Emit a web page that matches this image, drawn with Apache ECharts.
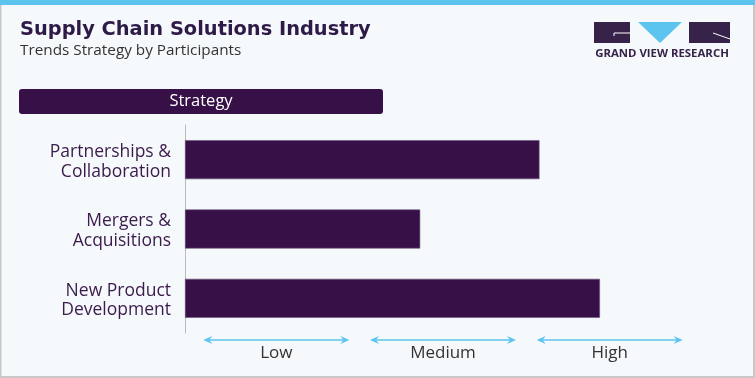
<!DOCTYPE html>
<html>
<head>
<meta charset="utf-8">
<script src="https://cdn.jsdelivr.net/npm/echarts@6/dist/echarts.min.js"></script>
<style>
  html, body { margin: 0; padding: 0; background: #f5f9fc; }
  #chart { width: 755px; height: 378px; }
</style>
</head>
<body>
<div id="chart"></div>
<script>
// strategies and their intensity (0-3 scale: low / medium / high)
var strategies = ['Partnerships &\nCollaboration', 'Mergers &\nAcquisitions', 'New Product\nDevelopment'];
var strategyValues = [2.11, 1.40, 2.47];
var levels = ['Low', 'Medium', 'High'];

var purple = '#371047';
var blue = '#5cc4ef';
var font = '"Open Sans"';

var myChart = echarts.init(document.getElementById('chart'));

var option = {
  backgroundColor: '#f5f9fc',
  animation: false,
  grid: [
    {left: 185, right: 66, top: 125, bottom: 45},
    {left: 193, right: 62, top: 125, bottom: 45}
  ],
  xAxis: [
    {
      type: 'value',
      gridIndex: 0,
      min: 0,
      max: 3,
      show: false
    },
    {
      type: 'category',
      gridIndex: 1,
      data: levels,
      position: 'bottom',
      axisLine: {show: false},
      axisTick: {show: false},
      axisLabel: {
        margin: 12,
        color: '#333',
        fontFamily: font,
        fontSize: 17
      }
    }
  ],
  yAxis: [
    {
      type: 'category',
      gridIndex: 0,
      inverse: true,
      data: strategies,
      axisLine: {lineStyle: {color: '#bbb'}},
      axisTick: {show: false},
      axisLabel: {
        margin: 14,
        align: 'right',
        formatter: function (v) {
          var lines = v.split('\n');
          return '{first|' + lines[0] + '}\n{second|' + lines[1] + '}';
        },
        // uneven line heights push the two-line block a little below the bar centre
        rich: {
          first: {color: '#3b1a4c', fontFamily: font, fontSize: 17.5, lineHeight: 24, align: 'right'},
          second: {color: '#3b1a4c', fontFamily: font, fontSize: 17.5, lineHeight: 15, align: 'right'}
        }
      }
    },
    {
      type: 'category',
      gridIndex: 1,
      show: false,
      data: strategies
    }
  ],
  series: [
    {
      type: 'bar',
      xAxisIndex: 0,
      yAxisIndex: 0,
      barWidth: 39,
      data: strategyValues,
      itemStyle: {color: purple, borderColor: '#6a5478', borderWidth: 0.6}
    }
  ],
  graphic: [
    {type: 'rect', left: 0, top: 0, shape: {width: 755, height: 5}, style: {fill: blue}},
    {type: 'rect', left: 0, top: 5, shape: {width: 1.5, height: 373}, style: {fill: '#c8c8c8'}},
    {type: 'rect', left: 753, top: 5, shape: {width: 2, height: 373}, style: {fill: '#c8c8c8'}},
    {type: 'rect', left: 0, top: 376, shape: {width: 755, height: 2}, style: {fill: '#c8c8c8'}},
    {type: 'text', left: 20, top: 20, style: {text: 'Supply Chain Solutions Industry', fill: '#2e1a47',
      font: 'bold 19.4px "DejaVu Sans"'}},
    {type: 'text', left: 20, top: 43, style: {text: 'Trends Strategy by Participants', fill: '#333',
      font: '15.3px ' + font}},
    {type: 'rect', left: 19, top: 89, shape: {width: 364, height: 25, r: 3}, style: {fill: purple}},
    {type: 'text', x: 201, y: 101.5, style: {text: 'Strategy', fill: '#fff', font: '16.5px ' + font,
      align: 'center', verticalAlign: 'middle'}},
    // logo
    {type: 'rect', left: 594, top: 22, shape: {width: 36, height: 21}, style: {fill: '#37234a'}},
    {type: 'polyline', shape: {points: [[630, 33], [614, 33], [614, 36]]}, style: {stroke: '#fff', lineWidth: 1, fill: null}},
    {type: 'polygon', shape: {points: [[638, 22], [682, 22], [660, 43]]}, style: {fill: blue}},
    {type: 'rect', left: 689, top: 22, shape: {width: 41, height: 21}, style: {fill: '#37234a'}},
    {type: 'polyline', shape: {points: [[713, 33], [730, 39]]}, style: {stroke: '#fff', lineWidth: 1}},
    {type: 'text', x: 662, y: 54, style: {text: 'GRAND VIEW RESEARCH', fill: '#37234a', font: 'bold 11.4px ' + font,
      align: 'center', verticalAlign: 'middle'}}
  ]
};

myChart.setOption(option);

// double-headed arrows above each level label
var arrows = [];
var arrowY = 340;
levels.forEach(function (lv) {
  var cx = myChart.convertToPixel({xAxisIndex: 1}, lv);
  var x1 = cx - 73, x2 = cx + 73;
  arrows.push({type: 'line', shape: {x1: x1 + 4, y1: arrowY, x2: x2 - 4, y2: arrowY}, style: {stroke: blue, lineWidth: 1.5}});
  arrows.push({type: 'polygon', shape: {points: [[x1, arrowY], [x1 + 9, arrowY - 4], [x1 + 6, arrowY], [x1 + 9, arrowY + 4]]}, style: {fill: blue}});
  arrows.push({type: 'polygon', shape: {points: [[x2, arrowY], [x2 - 9, arrowY - 4], [x2 - 6, arrowY], [x2 - 9, arrowY + 4]]}, style: {fill: blue}});
});
myChart.setOption({graphic: option.graphic.concat(arrows)});
</script>
</body>
</html>
